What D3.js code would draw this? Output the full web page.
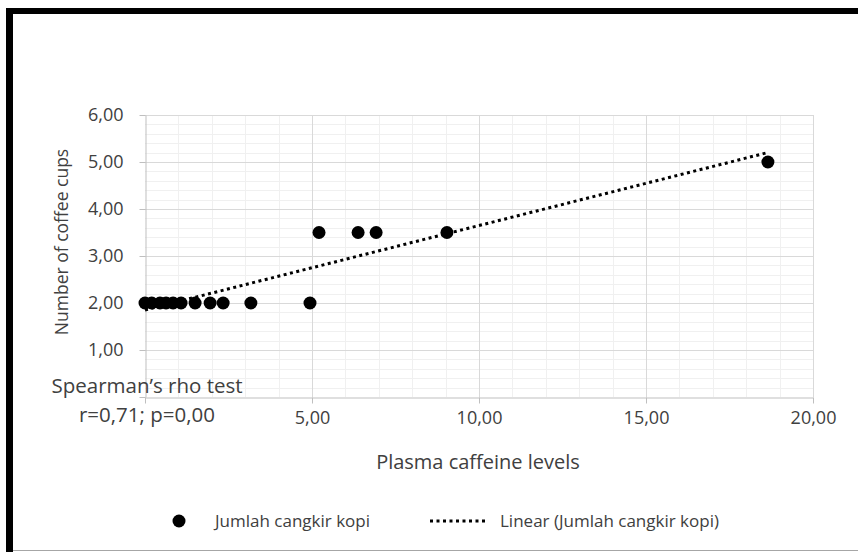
<!DOCTYPE html>
<html>
<head>
<meta charset="utf-8">
<script src="https://cdn.jsdelivr.net/npm/d3@7"></script>
<style>
  html, body { margin: 0; padding: 0; background: #fff; }
  svg { display: block; font-family: "Open Sans", sans-serif; }
</style>
</head>
<body>
<div id="chart"></div>
<script>
// data
const caffeineLevels = [0.0, 0.2, 0.45, 0.63, 0.84, 1.08, 1.5, 1.95, 2.34, 3.17, 4.94, 5.21, 6.38, 6.92, 9.04, 18.65];
const coffeeCups     = [2, 2, 2, 2, 2, 2, 2, 2, 2, 2, 2, 3.5, 3.5, 3.5, 3.5, 5];
const xTickValues = [0, 5, 10, 15, 20];
const yTickValues = [0, 1, 2, 3, 4, 5, 6];
const seriesName = "Jumlah cangkir kopi";
const trendName = "Linear (Jumlah cangkir kopi)";
const xTitle = "Plasma caffeine levels";
const yTitle = "Number of coffee cups";
const noteLines = ["Spearman\u2019s rho test", "r=0,71; p=0,00"];

const W = 858, H = 552;
const margin = {top: 115, right: 45, bottom: 155, left: 145};
const width = W - margin.left - margin.right,
      height = H - margin.top - margin.bottom;

const svg = d3.select("#chart")
    .append("svg")
    .attr("width", W)
    .attr("height", H);

// frame
svg.append("rect").attr("x", 6).attr("y", 8).attr("width", W - 6).attr("height", 6).attr("fill", "#000");
svg.append("rect").attr("x", 6).attr("y", 8).attr("width", 7).attr("height", H - 8).attr("fill", "#000");
svg.append("line").attr("x1", 13).attr("x2", W).attr("y1", 550.5).attr("y2", 550.5)
    .attr("stroke", "#a6a6a6").attr("stroke-width", 1);

const g = svg.append("g")
    .attr("transform", "translate(" + margin.left + "," + margin.top + ")");

const x = d3.scaleLinear().domain([0, 20]).range([0, width]);
const y = d3.scaleLinear().domain([0, 6]).range([height, 0]);

const fmt = d => d3.format(".2f")(d).replace(".", ",");

// minor gridlines
g.append("g")
    .selectAll("line")
    .data(d3.range(1, 20).filter(d => d % 5 !== 0))
    .enter().append("line")
    .attr("x1", d => Math.round(x(d)) + 0.5).attr("x2", d => Math.round(x(d)) + 0.5)
    .attr("y1", 0).attr("y2", height)
    .attr("stroke", "#f0f0f0");
g.append("g")
    .selectAll("line")
    .data(d3.range(1, 30).filter(d => d % 5 !== 0).map(d => d / 5))
    .enter().append("line")
    .attr("x1", 0).attr("x2", width)
    .attr("y1", d => Math.round(y(d)) + 0.5).attr("y2", d => Math.round(y(d)) + 0.5)
    .attr("stroke", "#f0f0f0");

// major gridlines
g.append("g")
    .selectAll("line")
    .data(xTickValues.filter(d => d > 0))
    .enter().append("line")
    .attr("x1", d => Math.round(x(d)) + 0.5).attr("x2", d => Math.round(x(d)) + 0.5)
    .attr("y1", 0).attr("y2", height)
    .attr("stroke", "#d9d9d9");
g.append("g")
    .selectAll("line")
    .data(yTickValues.filter(d => d > 0))
    .enter().append("line")
    .attr("x1", 0).attr("x2", width)
    .attr("y1", d => Math.round(y(d)) + 0.5).attr("y2", d => Math.round(y(d)) + 0.5)
    .attr("stroke", "#d9d9d9");

// axes
const xAxis = g.append("g")
    .attr("transform", "translate(0," + (Math.round(height) + 0.5) + ")")
    .call(d3.axisBottom(x).tickValues(xTickValues).tickSize(6).tickSizeOuter(0)
        .tickFormat(d => d === 0 ? "" : fmt(d)));
const yAxis = g.append("g")
    .attr("transform", "translate(0.5,0)")
    .call(d3.axisLeft(y).tickValues(yTickValues).tickSize(6).tickSizeOuter(0)
        .tickFormat(d => d === 0 ? "" : fmt(d)));

[xAxis, yAxis].forEach(a => {
    a.select(".domain").attr("stroke", "#bfbfbf");
    a.selectAll(".tick line").attr("stroke", "#bfbfbf");
    a.selectAll("text").attr("fill", "#404040").style("font-size", "18px")
        .style("font-family", "'Open Sans', sans-serif");
});
xAxis.selectAll("text").attr("dy", "1.15em").attr("y", 6);
yAxis.selectAll("text").attr("x", -22);

// linear trendline
const n = caffeineLevels.length;
const mx = d3.mean(caffeineLevels), my = d3.mean(coffeeCups);
let sxy = 0, sxx = 0;
for (let i = 0; i < n; i++) {
    sxy += (caffeineLevels[i] - mx) * (coffeeCups[i] - my);
    sxx += (caffeineLevels[i] - mx) ** 2;
}
const slope = sxy / sxx, intercept = my - slope * mx;
const xExt = d3.extent(caffeineLevels);

g.append("line")
    .attr("x1", x(xExt[0])).attr("y1", y(intercept + slope * xExt[0]))
    .attr("x2", x(xExt[1])).attr("y2", y(intercept + slope * xExt[1]))
    .attr("stroke", "#000")
    .attr("stroke-width", 3)
    .attr("stroke-dasharray", "3 3.5");

// points
g.append("g")
    .selectAll("circle")
    .data(caffeineLevels.map((d, i) => [d, coffeeCups[i]]))
    .enter()
    .append("circle")
    .attr("cx", d => x(d[0]))
    .attr("cy", d => y(d[1]))
    .attr("r", 6.5)
    .style("fill", "#000");

// axis titles
svg.append("text")
    .attr("x", 478).attr("y", 469)
    .attr("text-anchor", "middle")
    .attr("fill", "#404040")
    .style("font-size", "20px")
    .text(xTitle);
svg.append("text")
    .attr("transform", "translate(68,242) rotate(-90)")
    .attr("text-anchor", "middle")
    .attr("fill", "#404040")
    .style("font-size", "17.5px")
    .text(yTitle);

// note text box
svg.append("g")
    .selectAll("text")
    .data(noteLines)
    .enter().append("text")
    .attr("x", 147)
    .attr("y", (d, i) => 393 + i * 29)
    .attr("text-anchor", "middle")
    .attr("fill", "#404040")
    .style("font-size", "20.5px")
    .text(d => d);

// legend
const legend = svg.append("g");
legend.append("circle").attr("cx", 179).attr("cy", 521).attr("r", 6.5).attr("fill", "#000");
legend.append("text").attr("x", 215).attr("y", 527).attr("fill", "#404040")
    .style("font-size", "17px").text(seriesName);
legend.append("line").attr("x1", 430).attr("x2", 488).attr("y1", 521).attr("y2", 521)
    .attr("stroke", "#000").attr("stroke-width", 3).attr("stroke-dasharray", "3 3.5");
legend.append("text").attr("x", 500).attr("y", 527).attr("fill", "#404040")
    .style("font-size", "17px").text(trendName);
</script>
</body>
</html>
